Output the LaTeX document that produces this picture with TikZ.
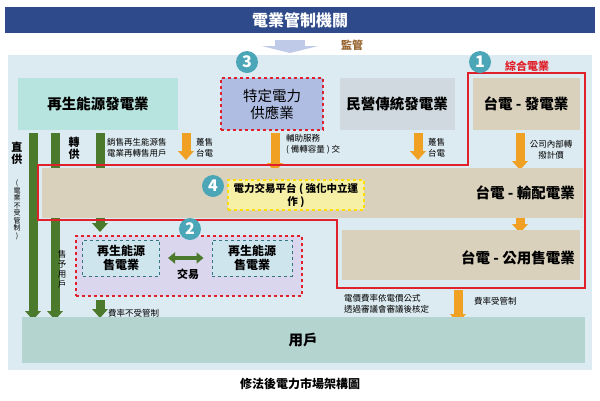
\documentclass[tikz,border=0pt]{standalone}
\usepackage{fontspec}
\setmainfont{Noto Sans CJK TC}
\usetikzlibrary{arrows.meta,calc}
\definecolor{navy}{HTML}{2E4A8A}
\definecolor{panel}{HTML}{DCEBF1}
\definecolor{teal}{HTML}{4BA6B8}
\definecolor{ren}{HTML}{B7E4DE}
\definecolor{spec}{HTML}{AFBDE3}
\definecolor{priv}{HTML}{CFD9DF}
\definecolor{tan}{HTML}{D9D1BC}
\definecolor{ylw}{HTML}{F6F0A6}
\definecolor{lav}{HTML}{DAD6EE}
\definecolor{sell}{HTML}{CFE5EE}
\definecolor{user}{HTML}{B4D4CF}
\definecolor{grn}{HTML}{4C7A2C}
\definecolor{org}{HTML}{F0A022}
\definecolor{rd}{HTML}{E0202A}
\tikzset{x=1pt,y=-1pt,
 box/.style={inner sep=0pt,align=center,font=\bfseries\fontsize{14.5}{17}\selectfont},
 num/.style={circle,fill=teal,text=white,minimum size=22pt,inner sep=0pt,font=\bfseries\fontsize{16}{16}\selectfont},
 small/.style={font=\fontsize{8.5}{11}\selectfont,align=left,inner sep=0pt,anchor=west},
 lbl/.style={font=\fontsize{8.5}{10}\selectfont,inner sep=0pt}}
\newcommand{\garrow}[3]{\fill[grn] (#1-4.5,#2) rectangle (#1+4.5,#3-9); \fill[grn] (#1-8,#3-9) -- (#1+8,#3-9) -- (#1,#3) -- cycle;}
\newcommand{\oarrow}[3]{\fill[org] (#1-4.5,#2) rectangle (#1+4.5,#3-9); \fill[org] (#1-8,#3-9) -- (#1+8,#3-9) -- (#1,#3) -- cycle;}
\begin{document}
\begin{tikzpicture}
\useasboundingbox (0,0) rectangle (600,400);
\fill[white] (0,0) rectangle (600,400);
% title
\node[box,fill=navy,text=white,minimum width=590pt,minimum height=26pt,font=\bfseries\fontsize{16}{16}\selectfont] (title) at (300,20) {電業管制機關};
% panel
\fill[panel] (8,55) rectangle (592,370);
% supervise arrow
\fill[spec!80] (275,40) rectangle (305,46);
\fill[spec!80] (262,46) -- (318,46) -- (290,53) -- cycle;
\node[lbl,text=brown!80!black,font=\bfseries\fontsize{11}{11}\selectfont] (jg) at (352,45) {監管};
% arrows (behind band)
\garrow{33}{133}{320}
\garrow{55}{133}{320}
\garrow{100}{133}{232}
\garrow{100}{300}{318}
\oarrow{186}{133}{160}
\oarrow{275}{133}{172}
\oarrow{418}{133}{160}
\oarrow{520}{133}{170}
\oarrow{520}{216}{233}
\oarrow{458}{290}{323}
% top boxes
\node[box,fill=ren,minimum width=160pt,minimum height=52pt] (ren) at (98,104) {再生能源發電業};
\node[box,fill=spec,draw=rd,dashed,line width=1.2pt,minimum width=102pt,minimum height=52pt,font=\fontsize{14.5}{17}\selectfont] (spec) at (272,104) {特定電力\\供應業};
\node[box,fill=priv,minimum width=115pt,minimum height=52pt] (priv) at (397,104) {民營傳統發電業};
\node[box,fill=tan,minimum width=107pt,minimum height=52pt] (tpg) at (526,104) {台電 - 發電業};
% band
\node[box,fill=tan,minimum width=541pt,minimum height=50pt] (band) at (312,193) {};
\node[box,anchor=east] (tpd) at (575,193) {台電 - 輸配電業};
\node[box,fill=ylw,draw=yellow!80!orange,dashed,line width=1.2pt,minimum width=136pt,minimum height=30pt,font=\bfseries\fontsize{10.5}{13}\selectfont] (plat) at (296,195) {電力交易平台 ( 強化中立運\\作 )};
\node[box,fill=tan,minimum width=238pt,minimum height=50pt] (pub) at (461,255) {};
\node[box,anchor=east] (pubt) at (575,258) {台電 - 公用售電業};
% group 2
\node[fill=lav,draw=rd,dashed,line width=1.1pt,minimum width=226pt,minimum height=60pt] (grp) at (189,266) {};
\node[box,fill=sell,draw=teal!70!black,dashed,line width=1pt,minimum width=77pt,minimum height=36pt,font=\bfseries\fontsize{12}{14}\selectfont] (s1) at (121,258) {再生能源\\售電業};
\node[box,fill=sell,draw=teal!70!black,dashed,line width=1pt,minimum width=80pt,minimum height=36pt,font=\bfseries\fontsize{12}{14}\selectfont] (s2) at (252,258) {再生能源\\售電業};
\draw[grn,line width=3.5pt,{Triangle[length=7pt,width=11pt]}-{Triangle[length=7pt,width=11pt]}] ($(s1.east)+(8,0)$) -- ($(s2.west)+(-8,0)$);
\node[lbl,font=\bfseries\fontsize{11}{11}\selectfont] (jy) at (188,274) {交易};
% users
\node[box,fill=user,minimum width=563pt,minimum height=46pt] (user) at (303,340) {用戶};
% red outline
\draw[rd,line width=1.2pt] (38,165) -- (468,165) -- (468,73) -- (585,73) -- (585,288) -- (337,288) -- (337,220) -- (38,220) -- cycle;
\node[lbl,text=rd,font=\bfseries\fontsize{11}{11}\selectfont] (zh) at (527,66) {綜合電業};
% circles
\node[num] (n3) at (247,62) {3};
\node[num] (n1) at (480,62) {1};
\node[num] (n4) at (213,186) {4};
\node[num] (n2) at (190,229) {2};
% labels
\node[lbl,font=\bfseries\fontsize{11}{12}\selectfont,align=center] (zg) at (17,153) {直\\供};
\node[lbl,font=\fontsize{7}{7.5}\selectfont,align=center] (zg2) at (17,210) {(\\電\\業\\不\\受\\管\\制\\)};
\node[lbl,font=\bfseries\fontsize{11}{12}\selectfont,align=center] (zhg) at (74,148) {轉\\供};
\node[lbl,align=center,font=\fontsize{8.5}{10}\selectfont] (sy) at (62,269) {售\\予\\用\\戶};
\node[small] (l1) at (107,148) {銷售再生能源售\\電業再轉售用戶};
\node[small] (l2) at (196,148) {躉售\\台電};
\node[small] (l3) at (286,144) {輔助服務\\( 備轉容量 ) 交};
\node[small] (l4) at (428,148) {躉售\\台電};
\node[small,align=center,anchor=center] (l5) at (551,150) {公司內部轉\\撥計價};
\node[small] (l6) at (108,313) {費率不受管制};
\node[small] (l7) at (344,304) {電價費率依電價公式\\透過審議會審議後核定};
\node[small] (l8) at (474,301) {費率受管制};
\node[lbl,font=\bfseries\fontsize{12}{12}\selectfont] (cap) at (300,384) {修法後電力市場架構圖};
\end{tikzpicture}
\end{document}
